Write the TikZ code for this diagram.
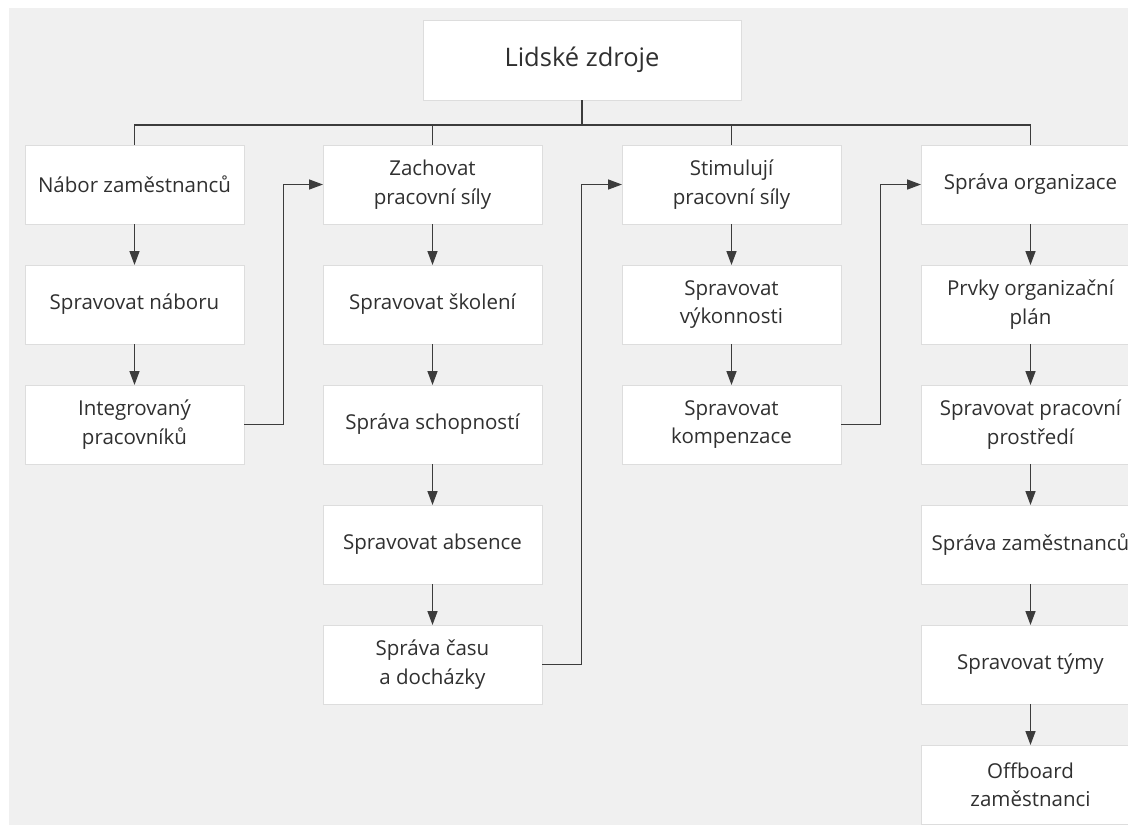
\documentclass[tikz,border=0pt]{standalone}
\usepackage{fontspec}
\setmainfont{Open Sans}
\usetikzlibrary{positioning,arrows.meta}
\definecolor{bggray}{HTML}{F0F0F0}
\definecolor{edgegray}{HTML}{DDDDDD}
\definecolor{linegray}{HTML}{3C3C3C}
\definecolor{txtgray}{HTML}{303030}

\begin{document}
\begin{tikzpicture}[x=1pt,y=-1pt,node distance=41pt,outer sep=0pt]
\tikzstyle{box}=[draw=edgegray, fill=white, line width=0.8pt, minimum width=219pt,
    minimum height=79pt, align=center, text=txtgray, inner sep=0pt,
    font=\fontsize{20.5}{28.5}\selectfont]
\tikzstyle{link}=[draw=linegray, line width=1.5pt]
\tikzstyle{arr}=[link, -{Triangle[width=10pt,length=14pt]}]
    \useasboundingbox (0,0) rectangle (1128,825);
    \clip (0,0) rectangle (1128,825);
    \fill[bggray] (9,8) rectangle (1128,825);
    \node (hr) [box,minimum width=318pt,minimum height=80pt,font=\fontsize{25.5}{30}\selectfont] at (582,60) {Lidské zdroje};
    % first column
    \node (nabor) [box] at (134.5,184.5) {Nábor zaměstnanců};
    \node (sprnab) [box,below=of nabor] {Spravovat náboru};
    \node (integr) [box,below=of sprnab] {Integrovaný\\pracovníků};
    % second column
    \node (zach) [box] at (432.5,184.5) {Zachovat\\pracovní síly};
    \node (skol) [box,below=of zach] {Spravovat školení};
    \node (schop) [box,below=of skol] {Správa schopností};
    \node (absen) [box,below=of schop] {Spravovat absence};
    \node (dochaz) [box,below=of absen] {Správa času\\a docházky};
    % third column
    \node (stim) [box] at (731.5,184.5) {Stimulují\\pracovní síly};
    \node (vykon) [box,below=of stim] {Spravovat\\výkonnosti};
    \node (kompen) [box,below=of vykon] {Spravovat\\kompenzace};
    % fourth column
    \node (org) [box] at (1030.5,184.5) {Správa organizace};
    \node (plan) [box,below=of org] {Prvky organizační\\plán};
    \node (prost) [box,below=of plan] {Spravovat pracovní\\prostředí};
    \node (zames) [box,below=of prost] {Správa zaměstnanců};
    \node (tymy) [box,below=of zames] {Spravovat týmy};
    \node (offb) [box,below=of tymy] {Offboard\\zaměstnanci};
    % bus from the root
    \draw[link] (hr.south) -- ++(0,25) coordinate (bus);
    \foreach \c in {nabor,zach,stim,org}
        \draw[link] (\c.north) |- (bus);
    % arrows inside the columns
    \foreach \a/\b in {nabor/sprnab,sprnab/integr,zach/skol,skol/schop,schop/absen,
        absen/dochaz,stim/vykon,vykon/kompen,org/plan,plan/prost,prost/zames,
        zames/tymy,tymy/offb}
        \draw[arr] (\a) -- (\b);
    % arrows to the next column
    \draw[arr] (integr.east) -- ++(39.5,0) |- (zach.west);
    \draw[arr] (dochaz.east) -- ++(39.5,0) |- (stim.west);
    \draw[arr] (kompen.east) -- ++(39.5,0) |- (org.west);
\end{tikzpicture}
\end{document}
